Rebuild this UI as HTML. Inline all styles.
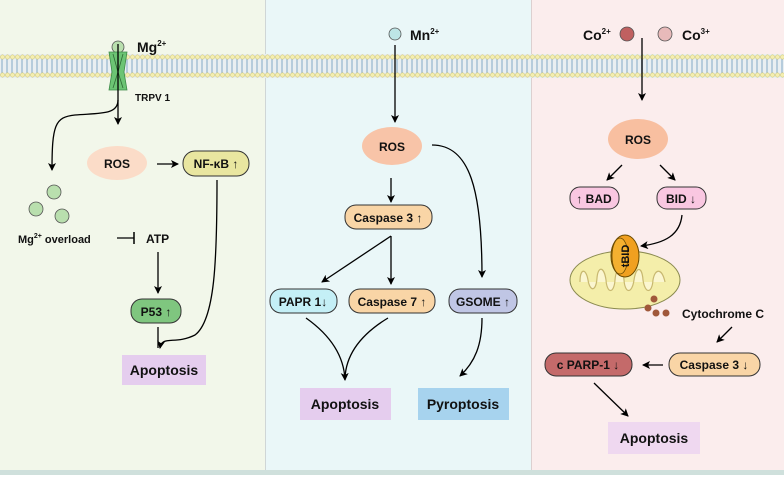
<!DOCTYPE html>
<html><head><meta charset="utf-8"><style>
body{margin:0;width:784px;height:475px;overflow:hidden;background:#fff}
text{font-family:"Liberation Sans",Arial,sans-serif;font-weight:bold;fill:#111}
</style></head><body>
<svg width="784" height="475" viewBox="0 0 784 475" xmlns="http://www.w3.org/2000/svg">
<defs>
<marker id="a" markerWidth="8" markerHeight="8" refX="7" refY="4" orient="auto" markerUnits="userSpaceOnUse"><path d="M0,0 L8,4 L0,8 L2,4Z" fill="#000"/></marker>
<pattern id="mem" width="5" height="24" patternUnits="userSpaceOnUse" y="54">
<line x1="2" y1="4" x2="2" y2="20" stroke="#a9c2d6" stroke-width="1.6"/>
<circle cx="2.5" cy="3" r="2.2" fill="#f4eeb0" stroke="#c8c070" stroke-width="0.5"/>
<circle cx="2.5" cy="21" r="2.2" fill="#f4eeb0" stroke="#c8c070" stroke-width="0.5"/>
</pattern>
</defs>
<rect x="0" y="0" width="265" height="475" fill="#f2f7ea"/>
<rect x="265" y="0" width="266" height="475" fill="#eaf7f8"/>
<rect x="531" y="0" width="253" height="475" fill="#fbeded"/>
<line x1="265.5" y1="0" x2="265.5" y2="475" stroke="#cfd6d6"/>
<line x1="531.5" y1="0" x2="531.5" y2="475" stroke="#dcd0d0"/>
<rect x="0" y="470" width="784" height="5" fill="#cfe0dc"/>
<rect x="0" y="54" width="784" height="24" fill="#e9eff2"/>
<rect x="0" y="54" width="784" height="24" fill="url(#mem)"/>

<!-- LEFT -->
<circle cx="118" cy="47" r="6" fill="#b9dfae" stroke="#555" stroke-width="0.8"/>
<text x="137" y="52" font-size="14">Mg<tspan font-size="8" dy="-6">2+</tspan></text>
<path d="M109,52 L127,52 L124,72 L127,90 L109,90 L112,72Z" fill="#6cc474" stroke="#3e8a48" stroke-width="0.8"/>
<path d="M113,54 L118,72 L113,88 M123,54 L118,72 L123,88" stroke="#2f6a35" stroke-width="0.8" fill="none"/>
<text x="135" y="101" font-size="10">TRPV 1</text>
<line x1="118" y1="44" x2="118" y2="124" stroke="#000" stroke-width="1.3" marker-end="url(#a)"/>
<path d="M118,100 C118,115 100,113 75,115 C55,117 52,125 52,170" stroke="#000" stroke-width="1.3" fill="none" marker-end="url(#a)"/>
<ellipse cx="117" cy="163" rx="30" ry="17" fill="#fbdcc8"/>
<text x="117" y="168" font-size="12" text-anchor="middle">ROS</text>
<line x1="157" y1="164" x2="178" y2="164" stroke="#000" stroke-width="1.3" marker-end="url(#a)"/>
<rect x="183" y="151" width="66" height="25" rx="12" fill="#e9e6a0" stroke="#333" stroke-width="1"/>
<text x="216" y="168" font-size="12" text-anchor="middle">NF-κB ↑</text>
<circle cx="54" cy="192" r="7" fill="#b9dfae" stroke="#555" stroke-width="0.8"/>
<circle cx="36" cy="209" r="7" fill="#b9dfae" stroke="#555" stroke-width="0.8"/>
<circle cx="62" cy="216" r="7" fill="#b9dfae" stroke="#555" stroke-width="0.8"/>
<text x="18" y="243" font-size="11">Mg<tspan font-size="7" dy="-5">2+</tspan><tspan dy="5"> overload</tspan></text>
<line x1="117" y1="238" x2="134" y2="238" stroke="#000" stroke-width="1.3"/>
<line x1="134" y1="232" x2="134" y2="244" stroke="#000" stroke-width="1.5"/>
<text x="146" y="243" font-size="12">ATP</text>
<line x1="158" y1="252" x2="158" y2="293" stroke="#000" stroke-width="1.3" marker-end="url(#a)"/>
<rect x="131" y="299" width="50" height="24" rx="11" fill="#7fc67f" stroke="#333" stroke-width="1"/>
<text x="156" y="316" font-size="12" text-anchor="middle">P53 ↑</text>
<path d="M217,180 C217,260 215,320 195,335 C175,345 162,335 160,348" stroke="#000" stroke-width="1.3" fill="none" marker-end="url(#a)"/>
<line x1="158" y1="327" x2="158" y2="348" stroke="#000" stroke-width="1.3"/>
<rect x="122" y="355" width="84" height="30" fill="#e5cdee"/>
<text x="164" y="375" font-size="14" text-anchor="middle">Apoptosis</text>

<!-- MIDDLE -->
<circle cx="395" cy="34" r="6" fill="#bde5e6" stroke="#555" stroke-width="0.8"/>
<text x="410" y="40" font-size="14">Mn<tspan font-size="8" dy="-6">2+</tspan></text>
<line x1="395" y1="45" x2="395" y2="122" stroke="#000" stroke-width="1.3" marker-end="url(#a)"/>
<ellipse cx="392" cy="146" rx="30" ry="19" fill="#f8c4a8"/>
<text x="392" y="151" font-size="12" text-anchor="middle">ROS</text>
<line x1="391" y1="178" x2="391" y2="202" stroke="#000" stroke-width="1.3" marker-end="url(#a)"/>
<rect x="345" y="205" width="87" height="24" rx="11" fill="#f9d5a6" stroke="#333" stroke-width="1"/>
<text x="388" y="222" font-size="12" text-anchor="middle">Caspase 3 ↑</text>
<line x1="391" y1="236" x2="322" y2="282" stroke="#000" stroke-width="1.3" marker-end="url(#a)"/>
<line x1="391" y1="236" x2="391" y2="284" stroke="#000" stroke-width="1.3" marker-end="url(#a)"/>
<path d="M432,145 C470,145 482,190 482,277" stroke="#000" stroke-width="1.3" fill="none" marker-end="url(#a)"/>
<rect x="270" y="289" width="67" height="24" rx="11" fill="#c4eff6" stroke="#333" stroke-width="1"/>
<text x="303" y="306" font-size="12" text-anchor="middle">PAPR 1↓</text>
<rect x="349" y="289" width="86" height="24" rx="11" fill="#f9d5a6" stroke="#333" stroke-width="1"/>
<text x="392" y="306" font-size="12" text-anchor="middle">Caspase 7 ↑</text>
<rect x="449" y="289" width="68" height="24" rx="11" fill="#c0c6e5" stroke="#333" stroke-width="1"/>
<text x="483" y="306" font-size="12" text-anchor="middle">GSOME ↑</text>
<path d="M306,318 C330,335 344,355 345,380" stroke="#000" stroke-width="1.3" fill="none" marker-end="url(#a)"/>
<path d="M388,318 C360,335 346,355 345,378" stroke="#000" stroke-width="1.3" fill="none"/>
<path d="M482,318 C482,345 475,362 460,376" stroke="#000" stroke-width="1.3" fill="none" marker-end="url(#a)"/>
<rect x="300" y="388" width="91" height="32" fill="#e5cdee"/>
<text x="345" y="409" font-size="14" text-anchor="middle">Apoptosis</text>
<rect x="418" y="388" width="91" height="32" fill="#a7d3ee"/>
<text x="463" y="409" font-size="14" text-anchor="middle">Pyroptosis</text>

<!-- RIGHT -->
<text x="583" y="40" font-size="14">Co<tspan font-size="8" dy="-6">2+</tspan></text>
<circle cx="627" cy="34" r="7" fill="#c06060" stroke="#555" stroke-width="0.8"/>
<circle cx="665" cy="34" r="7" fill="#e8baba" stroke="#555" stroke-width="0.8"/>
<text x="682" y="40" font-size="14">Co<tspan font-size="8" dy="-6">3+</tspan></text>
<line x1="642" y1="38" x2="642" y2="100" stroke="#000" stroke-width="1.3" marker-end="url(#a)"/>
<ellipse cx="638" cy="139" rx="30" ry="20" fill="#f8bfa0"/>
<text x="638" y="144" font-size="12" text-anchor="middle">ROS</text>
<line x1="622" y1="165" x2="607" y2="180" stroke="#000" stroke-width="1.3" marker-end="url(#a)"/>
<line x1="660" y1="165" x2="675" y2="180" stroke="#000" stroke-width="1.3" marker-end="url(#a)"/>
<rect x="570" y="187" width="49" height="22" rx="10" fill="#f9c7e1" stroke="#333" stroke-width="1"/>
<text x="594" y="203" font-size="12" text-anchor="middle">↑ BAD</text>
<rect x="657" y="187" width="49" height="22" rx="10" fill="#f9c7e1" stroke="#333" stroke-width="1"/>
<text x="681" y="203" font-size="12" text-anchor="middle">BID ↓</text>
<path d="M682,215 C680,235 665,243 641,246" stroke="#000" stroke-width="1.3" fill="none" marker-end="url(#a)"/>
<ellipse cx="625" cy="280" rx="55" ry="29" fill="#f4eeaa" stroke="#8a8a50" stroke-width="1"/>
<path d="M580,282 C580,268 586,268 588,280 C590,292 596,292 597,278 C598,266 604,266 606,280 C607,294 614,294 615,280 C616,266 623,266 624,280 C625,294 632,294 634,280 C636,266 642,266 643,280 C645,294 652,294 653,280 C655,268 662,268 665,282" stroke="#c8b870" stroke-width="1.2" fill="#fbf6d0"/>
<ellipse cx="625" cy="256" rx="14" ry="21" fill="#f0a020" stroke="#6a4a00" stroke-width="1"/>
<ellipse cx="620" cy="256" rx="8" ry="18" fill="#f4b030" stroke="#6a4a00" stroke-width="0.8"/>
<text x="0" y="0" font-size="11" text-anchor="middle" transform="translate(629,256) rotate(-90)">tBID</text>
<circle cx="654" cy="299" r="3.5" fill="#a0583a"/>
<circle cx="648" cy="308" r="3.5" fill="#a0583a"/>
<circle cx="656" cy="313" r="3.5" fill="#a0583a"/>
<circle cx="666" cy="313" r="3.5" fill="#a0583a"/>
<text x="682" y="318" font-size="12">Cytochrome C</text>
<line x1="732" y1="327" x2="717" y2="342" stroke="#000" stroke-width="1.3" marker-end="url(#a)"/>
<rect x="669" y="353" width="91" height="23" rx="11" fill="#f9d5a6" stroke="#333" stroke-width="1"/>
<text x="714" y="369" font-size="12" text-anchor="middle">Caspase 3 ↓</text>
<line x1="663" y1="365" x2="643" y2="365" stroke="#000" stroke-width="1.3" marker-end="url(#a)"/>
<rect x="545" y="353" width="87" height="23" rx="11" fill="#c46a6a" stroke="#333" stroke-width="1"/>
<text x="588" y="369" font-size="12" text-anchor="middle">c PARP-1 ↓</text>
<line x1="594" y1="383" x2="628" y2="416" stroke="#000" stroke-width="1.3" marker-end="url(#a)"/>
<rect x="608" y="422" width="92" height="32" fill="#efd8f0"/>
<text x="654" y="443" font-size="14" text-anchor="middle">Apoptosis</text>
</svg>
</body></html>
